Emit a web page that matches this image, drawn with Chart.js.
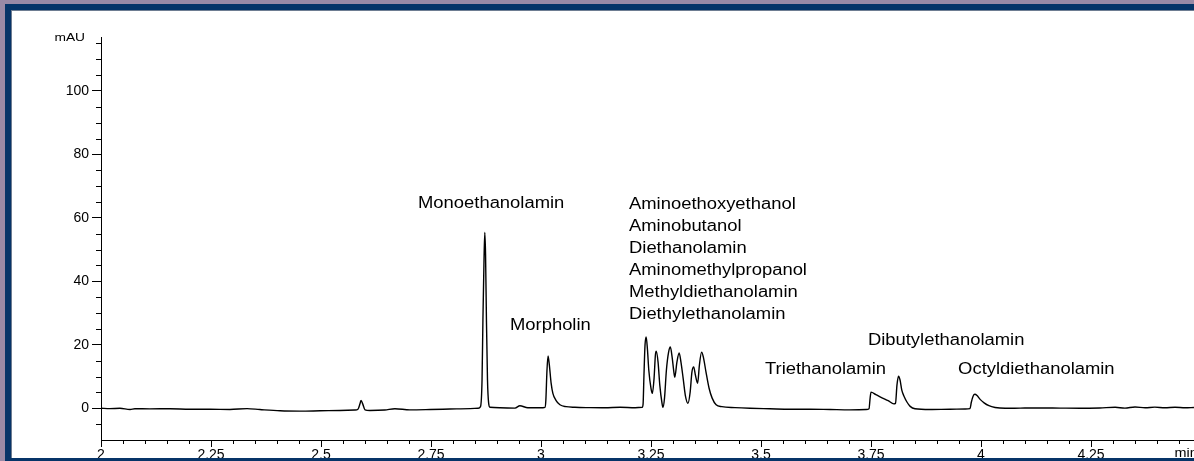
<!DOCTYPE html>
<html>
<head>
<meta charset="utf-8">
<title>Chromatogramm Ethanolamine</title>
<script src="https://cdn.jsdelivr.net/npm/chart.js@4.4.1/dist/chart.umd.min.js"></script>
<style>
  html, body { margin: 0; padding: 0; }
  body { width: 1194px; height: 461px; overflow: hidden; position: relative; background: #9a8aa6; }
  .frame { position: absolute; left: 5px; top: 4px; width: 1300px; height: 500px; background: #063468; }
  .edge { position: absolute; left: 11px; top: 10px; width: 1300px; height: 448px; background: #6e7d92; }
  .paper { position: absolute; left: 12px; top: 11px; width: 1200px; height: 447px; background: #fff; overflow: hidden; }
  #chart { position: absolute; left: -12px; top: -11px; }
</style>
</head>
<body>
<div class="frame"></div>
<div class="edge"></div>
<div class="paper"><canvas id="chart" width="1230" height="480"></canvas></div>
<script>
// retention time (min) and detector signal (mAU)
var times = [
  2.000, 2.020, 2.043, 2.066, 2.077, 2.111, 2.157, 2.202, 2.248, 2.293,
  2.332, 2.361, 2.407, 2.452, 2.498, 2.543, 2.577, 2.584, 2.589, 2.591,
  2.595, 2.600, 2.611, 2.645, 2.668, 2.702, 2.748, 2.793, 2.839, 2.857,
  2.8625, 2.866, 2.868, 2.8705, 2.8723, 2.874, 2.876, 2.8784, 2.881, 2.884,
  2.907, 2.941, 2.952, 2.970, 2.998, 3.009, 3.011, 3.0136, 3.016, 3.019,
  3.023, 3.027, 3.034, 3.043, 3.057, 3.077, 3.111, 3.145, 3.180, 3.214,
  3.230, 3.232, 3.234, 3.2364, 3.239, 3.242, 3.245, 3.250, 3.253, 3.257,
  3.260, 3.262, 3.266, 3.270, 3.275, 3.277, 3.2807, 3.285, 3.290, 3.294,
  3.298, 3.302, 3.304, 3.309, 3.314, 3.318, 3.323, 3.328, 3.334, 3.339,
  3.343, 3.347, 3.351, 3.356, 3.360, 3.365, 3.369, 3.375, 3.382, 3.389,
  3.398, 3.411, 3.441, 3.475, 3.520, 3.566, 3.611, 3.657, 3.702, 3.739,
  3.7455, 3.748, 3.750, 3.761, 3.775, 3.789, 3.802, 3.8057, 3.809, 3.8125,
  3.816, 3.820, 3.825, 3.832, 3.839, 3.850, 3.884, 3.930, 3.964, 3.975,
  3.978, 3.982, 3.986, 3.991, 3.998, 4.007, 4.018, 4.032, 4.055, 4.089,
  4.134, 4.180, 4.225, 4.270, 4.305, 4.327, 4.350, 4.373, 4.395, 4.418,
  4.441, 4.464, 4.484
];
var signal = [
  0.0, -0.1, 0.0, -0.4, -0.15, -0.2, -0.15, -0.3, -0.3, -0.4,
  -0.1, -0.4, -0.8, -0.9, -0.8, -0.7, -0.55, -0.3, 1.6, 2.5,
  1.3, -0.5, -0.7, -0.55, -0.15, -0.5, -0.4, -0.25, -0.1, 0.0,
  0.5, 8.9, 27.8, 46.8, 55.4, 48.4, 27.8, 8.9, 1.6, 0.3,
  0.15, 0.05, 0.8, 0.15, 0.15, 0.3, 2.5, 12.0, 16.5, 13.6,
  7.9, 4.7, 2.5, 1.1, 0.5, 0.3, 0.2, 0.15, 0.3, 0.15,
  0.3, 1.3, 10.4, 19.9, 22.5, 18.4, 12.0, 6.3, 4.7, 9.5,
  16.8, 18.0, 14.6, 7.3, 1.6, 0.3, 3.2, 12.0, 17.7, 19.3,
  16.1, 11.4, 9.8, 14.6, 17.4, 14.6, 9.5, 4.1, 1.6, 5.1,
  11.4, 13.0, 10.4, 7.9, 13.6, 17.7, 16.1, 11.4, 6.3, 3.2,
  1.1, 0.5, 0.2, 0.0, -0.15, -0.3, -0.3, -0.4, -0.5, -0.4,
  -0.15, 3.2, 5.1, 4.3, 3.3, 2.4, 1.4, 1.6, 7.3, 10.1,
  8.9, 5.7, 3.8, 1.9, 0.6, -0.15, -0.4, -0.3, -0.25, -0.1,
  1.9, 3.8, 4.4, 4.0, 2.8, 1.7, 0.8, 0.25, 0.0, 0.05,
  0.1, 0.05, 0.0, 0.1, 0.3, 0.05, 0.4, 0.15, 0.35, 0.15,
  0.3, 0.15, 0.25
];

var xRange = [2, 4.49];
var xMajorStep = 0.25;
var xMinorStep = 0.05;
var yRange = [-10, 117];
var yMajorStep = 20;
var yMinorStep = 5;
var yUnit = 'mAU';
var xUnit = 'min';

// peak names, anchored at (time, mAU) of their first baseline
var peakLabels = [
  { t: 2.7205, v: 63.0, lines: ['Monoethanolamin'] },
  { t: 2.9295, v: 24.7, lines: ['Morpholin'] },
  { t: 3.200, v: 62.7, lines: ['Aminoethoxyethanol', 'Aminobutanol', 'Diethanolamin', 'Aminomethylpropanol', 'Methyldiethanolamin', 'Diethylethanolamin'] },
  { t: 3.509, v: 10.8, lines: ['Triethanolamin'] },
  { t: 3.743, v: 19.9, lines: ['Dibutylethanolamin'] },
  { t: 3.948, v: 10.8, lines: ['Octyldiethanolamin'] }
];

var FONT = "'Liberation Sans', Arial, Helvetica, sans-serif";
var CANVAS_W = 1230;
var PX_PER_MIN = 440;

function wideText(ctx, text, x, y, sx) {
  ctx.save();
  ctx.translate(x, y);
  ctx.scale(sx, 1);
  ctx.fillText(text, 0, 0);
  ctx.restore();
}

function isMajor(v, step) {
  var r = v / step;
  return Math.abs(r - Math.round(r)) < 1e-6;
}

var overlayPlugin = {
  id: 'overlay',
  afterDraw: function (chart) {
    var ctx = chart.ctx;
    var xs = chart.scales.x;
    var ys = chart.scales.y;
    var area = chart.chartArea;
    var k, v, p;

    ctx.save();
    ctx.strokeStyle = '#000';
    ctx.lineWidth = 1;
    ctx.beginPath();
    for (k = Math.ceil(yRange[0] / yMinorStep); k * yMinorStep <= yRange[1]; k++) {
      v = k * yMinorStep;
      if (isMajor(v, yMajorStep) || v <= yRange[0]) continue;
      p = Math.round(ys.getPixelForValue(v)) + 0.5;
      ctx.moveTo(area.left - 5, p);
      ctx.lineTo(area.left, p);
    }
    for (k = Math.ceil(xRange[0] / xMinorStep); k * xMinorStep <= xRange[1]; k++) {
      v = k * xMinorStep;
      if (isMajor(v, xMajorStep)) continue;
      p = Math.round(xs.getPixelForValue(v)) + 0.5;
      ctx.moveTo(p, area.bottom);
      ctx.lineTo(p, area.bottom + 4);
    }
    ctx.stroke();

    ctx.fillStyle = '#000';
    ctx.textBaseline = 'alphabetic';

    ctx.font = '11px ' + FONT;
    ctx.textAlign = 'right';
    wideText(ctx, yUnit, area.left - 16, area.top + 4, 1.25);

    ctx.textAlign = 'left';
    ctx.font = '12px ' + FONT;
    wideText(ctx, xUnit, xs.getPixelForValue(4.44), area.bottom + 17, 1.2);

    ctx.font = '16px ' + FONT;
    peakLabels.forEach(function (lab) {
      var x = xs.getPixelForValue(lab.t);
      var y = ys.getPixelForValue(lab.v);
      lab.lines.forEach(function (line, i) {
        wideText(ctx, line, x, y + i * 22, 1.15);
      });
    });
    ctx.restore();
  }
};

function initChart() {
  var points = times.map(function (t, i) { return { x: t, y: signal[i] }; });
  var chartRight = 101 + (xRange[1] - xRange[0]) * PX_PER_MIN;

  new Chart(document.getElementById('chart'), {
    type: 'line',
    data: {
      datasets: [{
        data: points,
        borderColor: '#000',
        borderWidth: 1.4,
        pointRadius: 0,
        fill: false,
        cubicInterpolationMode: 'monotone'
      }]
    },
    options: {
      responsive: false,
      animation: false,
      layout: { padding: { left: 0, top: 37, right: CANVAS_W - chartRight, bottom: 0 } },
      plugins: { legend: { display: false }, tooltip: { enabled: false } },
      scales: {
        x: {
          type: 'linear',
          min: xRange[0],
          max: xRange[1],
          afterFit: function (scale) { scale.height = 40; },
          border: { display: true, color: '#000', width: 1 },
          grid: { drawOnChartArea: false, tickLength: 7, tickColor: '#000' },
          ticks: {
            stepSize: xMajorStep,
            includeBounds: false,
            autoSkip: false,
            maxRotation: 0,
            padding: 0,
            color: '#000',
            font: { family: FONT, size: 14 },
            callback: function (v) { return String(Number(v.toFixed(2))); }
          }
        },
        y: {
          min: yRange[0],
          max: yRange[1],
          afterFit: function (scale) { scale.width = 101; },
          border: { display: true, color: '#000', width: 1 },
          grid: { drawOnChartArea: false, tickLength: 9, tickColor: '#000' },
          ticks: {
            stepSize: yMajorStep,
            includeBounds: false,
            padding: 3,
            color: '#000',
            font: { family: FONT, size: 14 }
          }
        }
      }
    },
    plugins: [overlayPlugin]
  });
}

document.addEventListener('DOMContentLoaded', initChart);
</script>
</body>
</html>
